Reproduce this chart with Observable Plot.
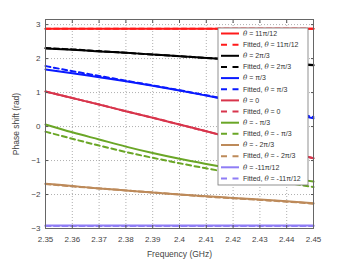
<!DOCTYPE html>
<html><head><meta charset="utf-8">
<script src="https://cdn.jsdelivr.net/npm/d3@7"></script>
<script src="https://cdn.jsdelivr.net/npm/@observablehq/plot@0.6"></script>
<style>body{margin:0;background:#fff;} svg{display:block;font-family:"Liberation Sans",Arial,sans-serif;}</style>
</head><body><div id="chart"></div>
<script>
const freqs = [2.35,2.36,2.37,2.38,2.39,2.40,2.41,2.42,2.43,2.44,2.45];
const xTicks = [2.35,2.36,2.37,2.38,2.39,2.40,2.41,2.42,2.43,2.44,2.45];
const yTicks = [-3,-2,-1,0,1,2,3];
const seriesNames = ["11π/12","2π/3","π/3","0","- π/3","- 2π/3","-11π/12"];
const seriesColors = ["#ff1a1a","#000000","#0a1aff","#d8354c","#6aa626","#bd8a5a","#8f7df5"];
const measured = [
  [2.88,2.88,2.88,2.88,2.88,2.88,2.88,2.88,2.88,2.88,2.88],
  [2.30,2.26,2.21,2.17,2.12,2.07,2.02,1.97,1.92,1.87,1.81],
  [1.68,1.57,1.45,1.33,1.20,1.06,0.91,0.76,0.60,0.43,0.24],
  [1.03,0.84,0.65,0.45,0.26,0.06,-0.14,-0.34,-0.54,-0.74,-0.93],
  [0.06,-0.17,-0.38,-0.59,-0.78,-0.95,-1.10,-1.24,-1.38,-1.51,-1.62],
  [-1.68,-1.75,-1.82,-1.88,-1.94,-2.00,-2.05,-2.10,-2.15,-2.20,-2.26],
  [-2.91,-2.91,-2.91,-2.91,-2.91,-2.91,-2.91,-2.91,-2.91,-2.91,-2.91]
];
const fitted = [
  [2.88,2.88,2.88,2.88,2.88,2.88,2.88,2.88,2.88,2.88,2.88],
  [2.31,2.27,2.22,2.17,2.12,2.07,2.02,1.97,1.92,1.86,1.80],
  [1.78,1.63,1.49,1.35,1.21,1.07,0.92,0.77,0.61,0.45,0.28],
  [1.03,0.84,0.65,0.45,0.26,0.06,-0.14,-0.34,-0.54,-0.74,-0.93],
  [-0.15,-0.36,-0.56,-0.75,-0.92,-1.08,-1.23,-1.37,-1.51,-1.65,-1.78],
  [-1.69,-1.76,-1.82,-1.88,-1.94,-2.00,-2.06,-2.11,-2.16,-2.21,-2.27],
  [-2.93,-2.93,-2.93,-2.93,-2.93,-2.93,-2.93,-2.93,-2.93,-2.93,-2.93]
];

const rows = [];
seriesNames.forEach((n,i) => {
  freqs.forEach((f,j) => {
    rows.push({f, v: measured[i][j], s: i, kind: "m"});
    rows.push({f, v: fitted[i][j], s: i, kind: "f"});
  });
});
const fmt = d => String(+d.toFixed(2));
const marks = [
  Plot.gridX(xTicks, {stroke:"#9a9a9a", strokeOpacity:1, strokeDasharray:"1,2", strokeWidth:0.8}),
  Plot.gridY(yTicks, {stroke:"#9a9a9a", strokeOpacity:1, strokeDasharray:"1,2", strokeWidth:0.8}),
];
seriesNames.forEach((n,i) => {
  marks.push(Plot.line(rows.filter(r => r.s===i && r.kind==="m"), {x:"f", y:"v", stroke: seriesColors[i], strokeWidth:2, curve:"monotone-x"}));
  marks.push(Plot.line(rows.filter(r => r.s===i && r.kind==="f"), {x:"f", y:"v", stroke: seriesColors[i], strokeWidth:2, strokeDasharray:"5,3.5", curve:"monotone-x"}));
});
marks.push(
  Plot.axisX(xTicks, {anchor:"bottom", tickSize:-3, tickPadding:11, tickFormat:fmt, fontSize:8, color:"#444", stroke:"#555", label:"Frequency (GHz)", labelAnchor:"center", labelOffset:28, labelArrow:"none"}),
  Plot.axisX(xTicks, {anchor:"top", tickSize:-3, tickFormat:()=>"", stroke:"#555", label:null}),
  Plot.axisY(yTicks, {anchor:"left", tickSize:-3, tickPadding:8, fontSize:8, color:"#444", stroke:"#555", label:"Phase shift (rad)", labelAnchor:"center", labelOffset:33, labelArrow:"none"}),
  Plot.axisY(yTicks, {anchor:"right", tickSize:-3, tickFormat:()=>"", stroke:"#555", label:null}),
  Plot.frame({stroke:"#666", strokeWidth:1})
);
const chart = Plot.plot({
  width:346, height:260,
  marginLeft:45, marginRight:33, marginTop:19, marginBottom:32,
  style:{fontFamily:"'Liberation Sans', Arial, sans-serif", fontSize:"8px", color:"#333", background:"#fff"},
  x:{domain:[2.35,2.45], label:"Frequency (GHz)"},
  y:{domain:[-3,3.15], label:"Phase shift (rad)"},
  marks
});
document.getElementById("chart").appendChild(chart);
d3.select(chart).selectAll("[aria-label='x-axis label'] text, [aria-label='y-axis label'] text").attr("font-size", 8.5);

// legend
const svg = d3.select(chart);
const lg = svg.append("g").attr("transform","translate(218,28)").attr("text-anchor","start");
const entries = [];
seriesNames.forEach((n,i) => {
  entries.push({label:n, prefix:"", color:seriesColors[i], dash:null});
  entries.push({label:n, prefix:"Fitted, ", color:seriesColors[i], dash:"6,5.5"});
});
const lh = 11.15;
lg.append("rect").attr("x",0).attr("y",0).attr("width",90).attr("height",157)
  .attr("fill","#fff").attr("stroke","#777").attr("stroke-width",0.8);
entries.forEach((e,k) => {
  const y = 5.5 + k*lh;
  lg.append("line").attr("x1",3).attr("x2",21).attr("y1",y).attr("y2",y)
    .attr("stroke",e.color).attr("stroke-width",2).attr("stroke-dasharray",e.dash);
  const t = lg.append("text").attr("x",25).attr("y",y).attr("dy","0.33em")
    .attr("font-size",7).attr("fill","#333").attr("text-anchor","start");
  if (e.prefix) t.append("tspan").text(e.prefix);
  t.append("tspan").attr("font-style","italic").attr("font-family","'DejaVu Serif',serif").text("θ");
  t.append("tspan").text(" = " + e.label);
});
</script></body></html>
